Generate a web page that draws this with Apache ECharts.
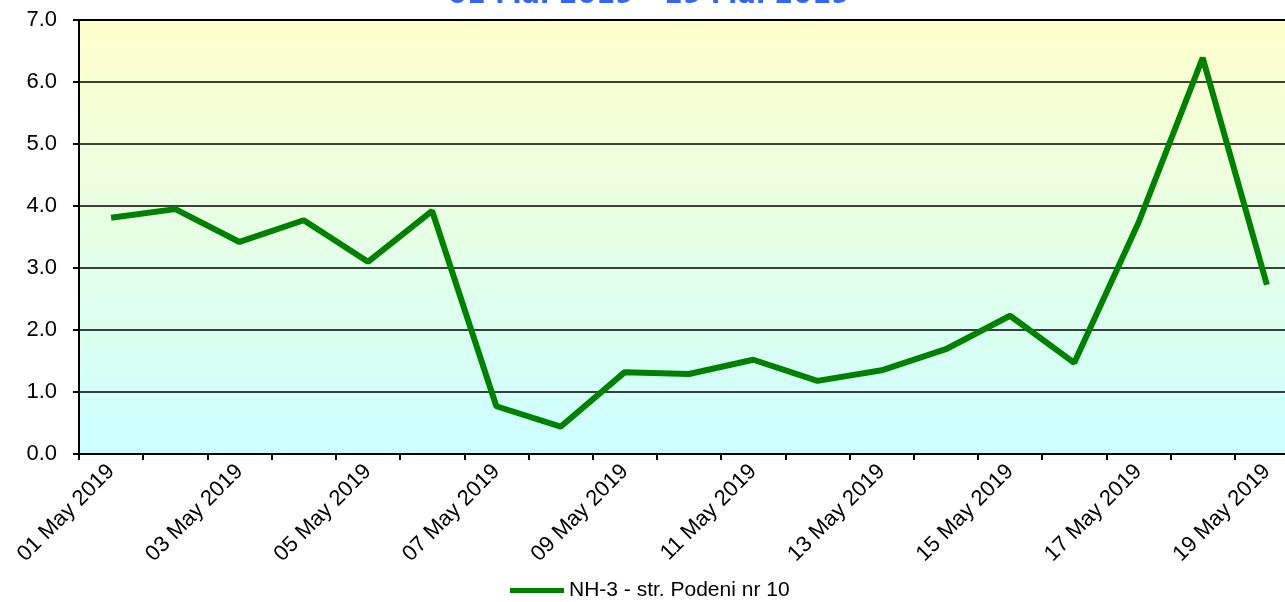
<!DOCTYPE html>
<html>
<head>
<meta charset="utf-8">
<script src="https://cdn.jsdelivr.net/npm/echarts@6/dist/echarts.min.js"></script>
<style>
	html, body { margin: 0; padding: 0; background: #fff; overflow: hidden; }
	#chart { width: 1300px; height: 602px; }
</style>
</head>
<body>
<div id="chart"></div>
<script>
var days = ['01 May 2019', '02 May 2019', '03 May 2019', '04 May 2019', '05 May 2019', '06 May 2019',
	'07 May 2019', '08 May 2019', '09 May 2019', '10 May 2019', '11 May 2019', '12 May 2019',
	'13 May 2019', '14 May 2019', '15 May 2019', '16 May 2019', '17 May 2019', '18 May 2019', '19 May 2019'];
var nh3 = [3.81, 3.95, 3.42, 3.77, 3.10, 3.92, 0.77, 0.44, 1.32, 1.29, 1.52, 1.18, 1.35, 1.69, 2.23, 1.47, 3.73, 6.39, 2.73];
var seriesName = 'NH-3 - str. Podeni nr 10';
var titleText = '01 Mai 2019 - 19 Mai 2019';

// chart is a bit wider than the window, the plot runs off the right edge like the original
var chart = echarts.init(document.getElementById('chart'));
var option = {
	animation: false,
	title: {
		text: titleText,
		left: 443,
		top: -23,
		textStyle: {
			fontFamily: 'Verdana, DejaVu Sans',
			fontSize: 27,
			fontWeight: 'bold',
			color: '#3366ff'
		}
	},
	grid: {
		show: true,
		left: 79,
		top: 20,
		width: 1220,
		bottom: 148,
		borderColor: '#000',
		borderWidth: 2,
		backgroundColor: new echarts.graphic.LinearGradient(0, 0, 0, 1, [
			{offset: 0, color: '#ffffcc'},
			{offset: 1, color: '#ccffff'}
		])
	},
	legend: {
		bottom: -4,
		left: 505,
		icon: 'rect',
		itemWidth: 54,
		itemHeight: 5,
		itemGap: 6,
		textStyle: {
			fontFamily: 'Liberation Sans, Arial',
			fontSize: 21,
			color: '#000'
		},
		data: [seriesName]
	},
	xAxis: {
		type: 'category',
		data: days,
		boundaryGap: true,
		axisLine: {lineStyle: {color: '#000', width: 2}},
		axisTick: {show: true, length: 6, lineStyle: {color: '#000', width: 2}, interval: 0},
		axisLabel: {
			interval: 1,
			rotate: 45,
			margin: 14,
			fontFamily: 'Liberation Sans, Arial',
			fontSize: 22,
			color: '#000'
		},
		splitLine: {show: false}
	},
	yAxis: {
		type: 'value',
		min: 0,
		max: 7,
		interval: 1,
		axisLine: {show: true, lineStyle: {color: '#000', width: 2}},
		axisTick: {show: true, length: 6, lineStyle: {color: '#000', width: 2}},
		axisLabel: {
			margin: 22,
			fontFamily: 'Liberation Sans, Arial',
			fontSize: 22,
			color: '#000',
			formatter: function (v) { return v.toFixed(1); }
		},
		splitLine: {show: true, lineStyle: {color: '#000', width: 1.5}}
	},
	series: [{
		name: seriesName,
		type: 'line',
		data: nh3,
		symbol: 'none',
		lineStyle: {color: '#008000', width: 6},
		itemStyle: {color: '#008000'}
	}]
};
chart.setOption(option);
</script>
</body>
</html>
